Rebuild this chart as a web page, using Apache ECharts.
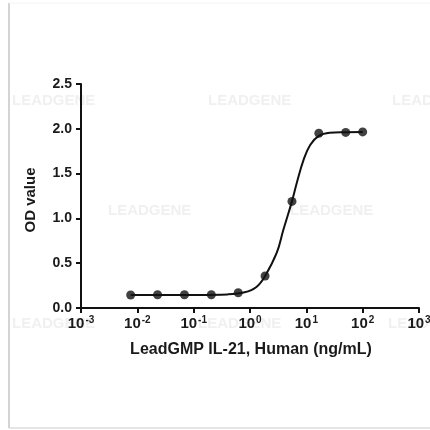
<!DOCTYPE html>
<html>
<head>
<meta charset="utf-8">
<script src="https://cdn.jsdelivr.net/npm/echarts@6/dist/echarts.min.js"></script>
<style>html,body{margin:0;padding:0;background:#fff}#c{width:430px;height:430px}</style>
</head>
<body>
<div id="c"></div>
<script>
// Measured points (ng/mL, OD)
var doses = [0.00762, 0.02286, 0.0686, 0.2058, 0.6173, 1.852, 5.556, 16.67, 50, 100];
var od    = [0.145, 0.148, 0.148, 0.148, 0.17, 0.357, 1.19, 1.95, 1.96, 1.965];
// Fitted curve
var fitDose = [0.00762, 0.1, 0.4, 0.8, 1.3, 1.852, 3.0, 3.9, 5.556, 6.8, 8.9, 11.7, 16.7, 26, 50, 100];
var fitOD   = [0.145, 0.146, 0.152, 0.175, 0.235, 0.357, 0.62, 0.87, 1.19, 1.40, 1.65, 1.82, 1.92, 1.955, 1.962, 1.965];
var yTicks = [0, 0.5, 1.0, 1.5, 2.0, 2.5];
var xExponents = ['-3', '-2', '-1', '0', '1', '2', '3'];
var xTitle = 'LeadGMP IL-21, Human (ng/mL)';
var yTitle = 'OD value';

var chart = echarts.init(document.getElementById('c'));
var pts = doses.map(function(d, i){ return [d, od[i]]; });
var fit = fitDose.map(function(d, i){ return [d, fitOD[i]]; });
var font = 'Arial';

function wm(x, y){
  return {type:'text', left:x, top:y, z:-10, silent:true,
    style:{text:'LEADGENE', fill:'#f0f0f0', font:'bold 15px ' + font}};
}

chart.setOption({
  animation:false,
  backgroundColor:'#fff',
  graphic:[
    {type:'line', shape:{x1:9, y1:3, x2:9, y2:428}, style:{stroke:'#d4d4d4', lineWidth:2}},
    {type:'line', shape:{x1:9, y1:428, x2:430, y2:428}, style:{stroke:'#dcdcdc', lineWidth:1.5}},
    {type:'line', shape:{x1:9, y1:3, x2:430, y2:3}, style:{stroke:'#f4f4f4', lineWidth:1}},
    wm(12, 93), wm(208, 93), wm(392, 93),
    wm(108, 203), wm(290, 203),
    wm(12, 316), wm(198, 316), wm(388, 316),
    {type:'text', x:31, y:200, rotation:Math.PI/2, z:5,
     style:{text:yTitle, fill:'#1a1a1a', font:'bold 15px ' + font, align:'center', verticalAlign:'middle'}},
    {type:'text', x:251, y:350, z:5,
     style:{text:xTitle, fill:'#1a1a1a', font:'bold 16px ' + font, align:'center', verticalAlign:'middle'}}
  ],
  grid:{left:81, right:11, top:84, bottom:122, containLabel:false, outerBoundsMode:'none'},
  xAxis:{
    type:'log', logBase:10, min:0.001, max:1000,
    axisLine:{show:true, lineStyle:{color:'#111', width:2}},
    axisTick:{show:true, length:5, lineStyle:{color:'#111', width:2}},
    minorTick:{show:false},
    splitLine:{show:false},
    axisLabel:{
      margin:7, hideOverlap:false, showMinLabel:true, showMaxLabel:true,
      formatter:function(v){
        var e = Math.round(Math.log10(v));
        var idx = e + 3;
        return '{b|10}{s|' + xExponents[idx] + '}';
      },
      rich:{
        b:{fontSize:15, fontWeight:'bold', color:'#1a1a1a', fontFamily:font, lineHeight:18},
        s:{fontSize:10, fontWeight:'bold', color:'#1a1a1a', fontFamily:font, lineHeight:10, verticalAlign:'top', padding:[0,0,0,1]}
      }
    }
  },
  yAxis:{
    type:'value', min:yTicks[0], max:yTicks[yTicks.length-1], interval:0.5,
    axisLine:{show:true, lineStyle:{color:'#111', width:2}},
    axisTick:{show:true, length:5, lineStyle:{color:'#111', width:2}},
    splitLine:{show:false},
    axisLabel:{margin:9, color:'#1a1a1a', fontWeight:'bold', fontSize:14, fontFamily:font,
      formatter:function(v){ return v.toFixed(1); }}
  },
  series:[
    {type:'line', data:fit, smooth:0.4, showSymbol:false, symbol:'none',
     lineStyle:{color:'#111', width:2}, z:2},
    {type:'scatter', data:pts, symbol:'circle', symbolSize:9,
     itemStyle:{color:'#111'}, z:3}
  ]
});
</script>
</body>
</html>
